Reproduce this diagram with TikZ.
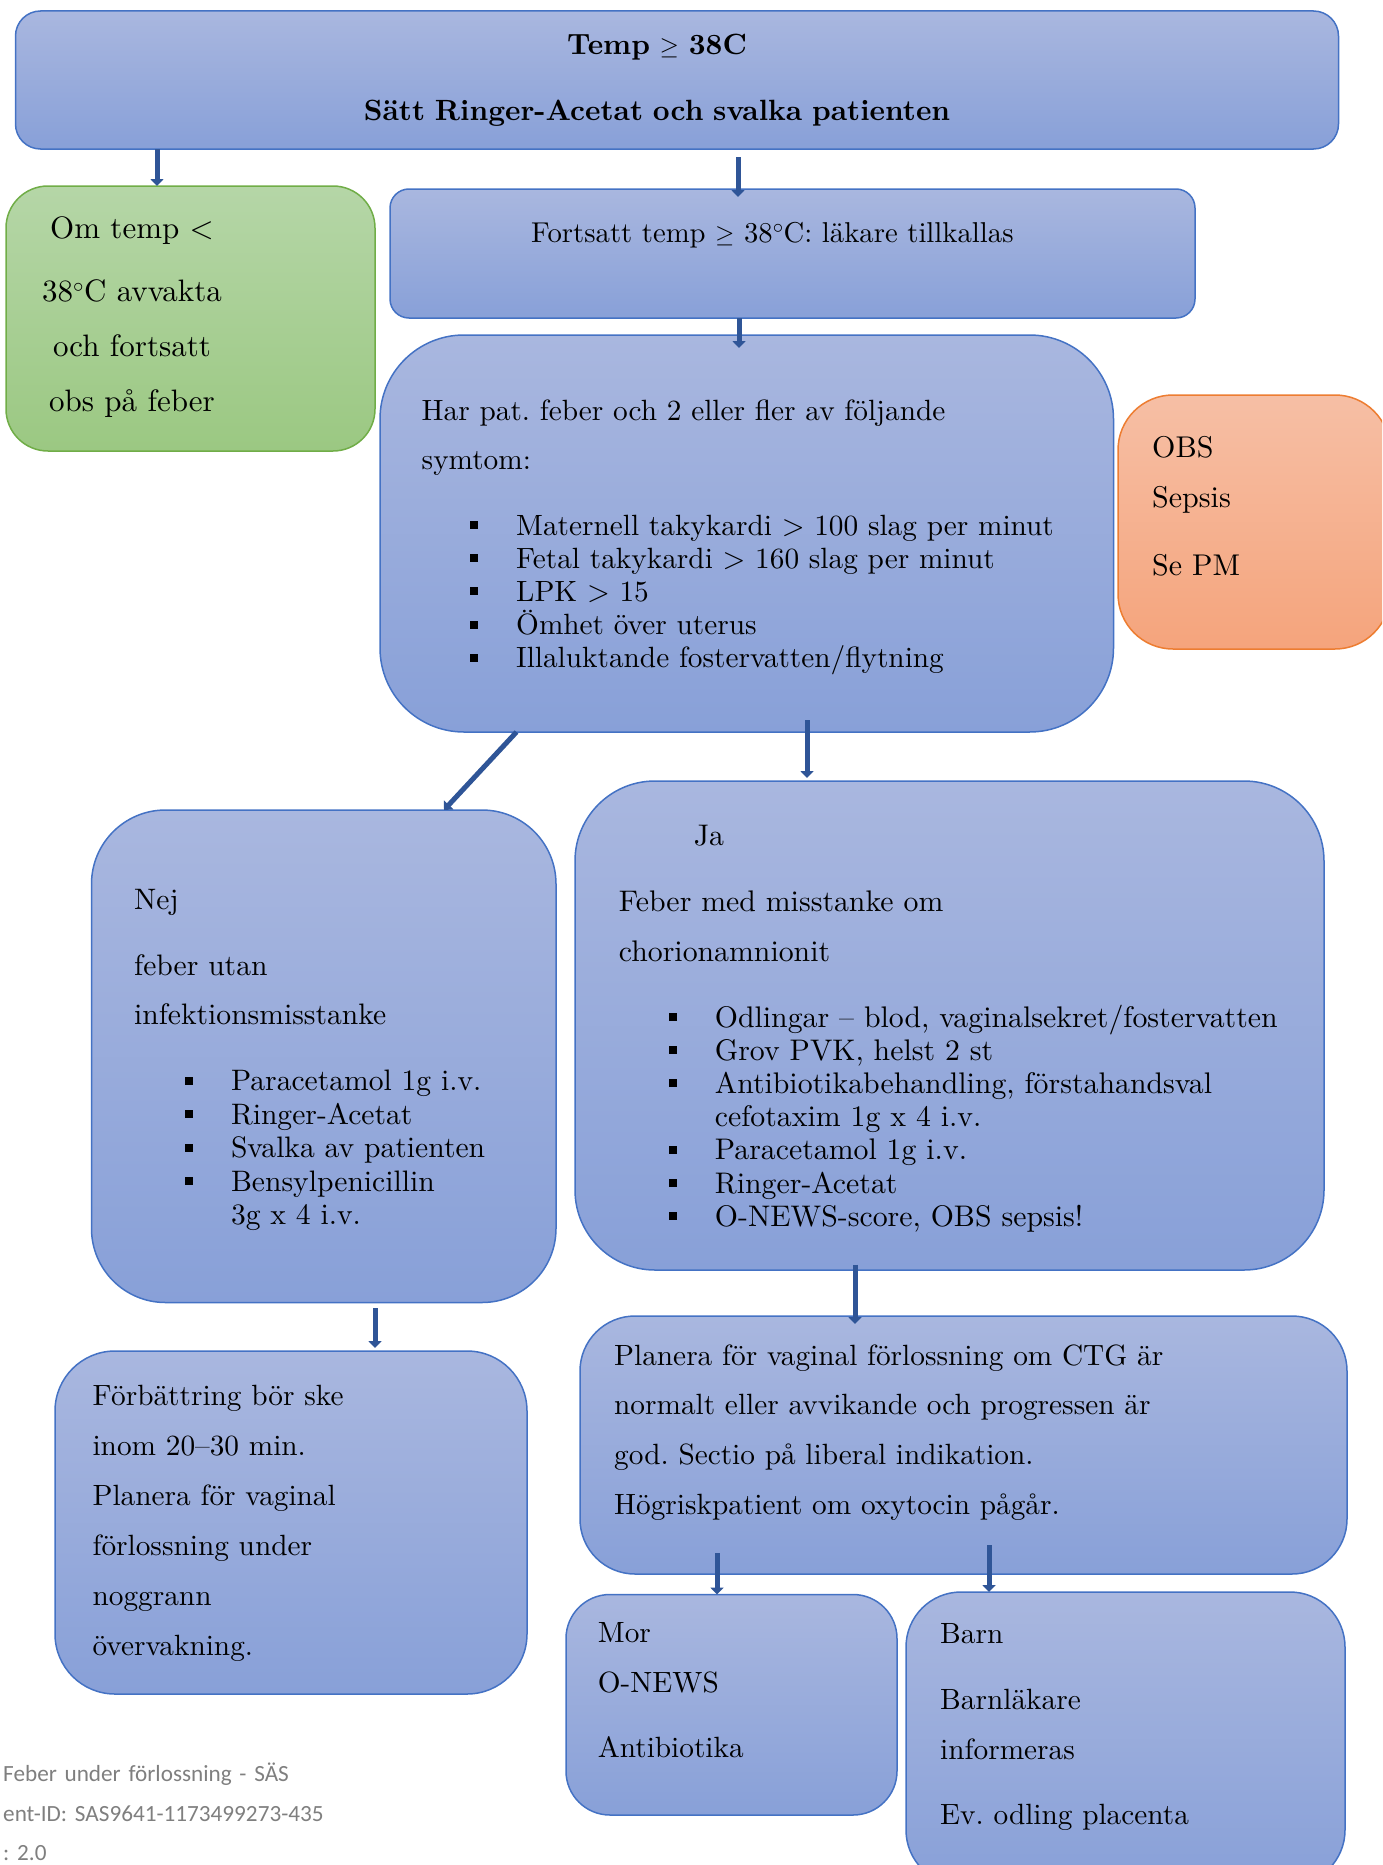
\documentclass[tikz,border=0pt]{standalone}
\usepackage{fontspec}
\setmainfont{lmroman10-regular.otf}[BoldFont=lmroman10-bold.otf]
\newfontfamily\footfont{Carlito}
\usetikzlibrary{positioning, arrows.meta}
\definecolor{blatopp}{HTML}{A9B7DF}
\definecolor{blabotten}{HTML}{88A0D8}
\definecolor{blakant}{HTML}{4472C4}
\definecolor{gronttopp}{HTML}{B5D6A7}
\definecolor{grontbotten}{HTML}{9BC882}
\definecolor{gronkant}{HTML}{70AD47}
\definecolor{orangetopp}{HTML}{F6BFA5}
\definecolor{orangebotten}{HTML}{F5A47C}
\definecolor{orangekant}{HTML}{ED7D31}
\definecolor{pilfarg}{HTML}{2F5597}
\definecolor{fotgra}{HTML}{7F7F7F}
\newcommand\punkt{\makebox[0pt][r]{\rule[6pt]{8pt}{8pt}\hspace{38pt}}}
\frenchspacing

\begin{document}
\begin{tikzpicture}[x=1pt, y=-1pt,
		ruta/.style={draw=blakant, line width=1.5pt, top color=blatopp, bottom color=blabotten,
		             inner sep=0pt, outer sep=0pt},
		gronruta/.style={ruta, draw=gronkant, top color=gronttopp, bottom color=grontbotten},
		orangeruta/.style={ruta, draw=orangekant, top color=orangetopp, bottom color=orangebotten},
		brodtext/.style={inner sep=0pt, anchor=base west, align=left, text width=760pt,
		                 font=\fontsize{29.3}{33.2}\selectfont},
		glestext/.style={brodtext, font=\fontsize{29.3}{50}\selectfont},
		pil/.style={-{Triangle[length=7pt, width=13pt]}, pilfarg, line width=5pt}]
	\useasboundingbox (0,0) rectangle (1382,1865);
	\clip (0,0) rectangle (1382,1865);
	% rutor
	\node[ruta, rounded corners=25pt, minimum width=1323pt, minimum height=138pt] (topp) at (677,80) {};
	\node[gronruta, rounded corners=42pt, minimum width=369pt, minimum height=265pt] (gron) at (190.5,318.5) {};
	\node[ruta, rounded corners=19pt, minimum width=805pt, minimum height=129pt] (fort) at (792.5,253.5) {};
	\node[ruta, rounded corners=84pt, minimum width=733.5pt, minimum height=397pt] (har) at (746.75,533.5) {};
	\node[orangeruta, rounded corners=55pt, minimum width=272pt, minimum height=254pt] (obs) at (1254,522) {};
	\node[ruta, rounded corners=74pt, minimum width=464.5pt, minimum height=492.5pt] (nej) at (323.75,1056.25) {};
	\node[ruta, rounded corners=80pt, minimum width=749pt, minimum height=489pt] (ja) at (949.5,1025.5) {};
	\node[ruta, rounded corners=60pt, minimum width=472pt, minimum height=343pt] (forb) at (291,1522.5) {};
	\node[ruta, rounded corners=55pt, minimum width=767pt, minimum height=258pt] (plan) at (963.5,1445) {};
	\node[ruta, rounded corners=44pt, minimum width=331pt, minimum height=220.5pt] (mor) at (731.5,1704.75) {};
	\node[ruta, rounded corners=55pt, minimum width=439pt, minimum height=293pt] (barn) at (1125.5,1738.5) {};
	% texter
	\node[brodtext, anchor=base, align=center, text width=1200pt, font=\bfseries\fontsize{29.3}{33.2}\selectfont] (topptext) at (657,54.3)
		{Temp $\geq$ 38C\\[33.2pt] Sätt Ringer-Acetat och svalka patienten};
	\node[brodtext, anchor=base, align=center, text width=330pt, font=\fontsize{31}{55}\selectfont] (grontext) at (132,238)
		{Om temp <\\[8.7pt] 38$^{\circ}$C avvakta\\ och fortsatt\\ obs på feber};
	\node[brodtext, font=\fontsize{28.7}{33.2}\selectfont] (forttext) at (531,242.7) {Fortsatt temp $\geq$ 38$^{\circ}$C: läkare tillkallas};
	\node[brodtext] (hartext) at (421.5,420)
		{Har pat. feber och 2 eller fler av följande\\[16.1pt]
		 symtom:\\[32.5pt]
		 \hspace*{94.5pt}\punkt Maternell takykardi > 100 slag per minut\\
		 \hspace*{94.5pt}\punkt Fetal takykardi > 160 slag per minut\\
		 \hspace*{94.5pt}\punkt LPK > 15\\
		 \hspace*{94.5pt}\punkt Ömhet över uterus\\
		 \hspace*{94.5pt}\punkt Illaluktande fostervatten/flytning};
	\node[brodtext, font=\fontsize{30}{33.2}\selectfont] (obstext) at (1152,457.7) {OBS\\[16.1pt] Sepsis\\[34.8pt] Se PM};
	\node[brodtext, font=\fontsize{29.6}{33.5}\selectfont] (nejtext) at (134,909.8)
		{Nej\\[31.7pt]
		 feber utan\\[16pt]
		 infektionsmisstanke\\[32.9pt]
		 \hspace*{96.8pt}\punkt Paracetamol 1g i.v.\\
		 \hspace*{96.8pt}\punkt Ringer-Acetat\\
		 \hspace*{96.8pt}\punkt Svalka av patienten\\
		 \hspace*{96.8pt}\punkt Bensylpenicillin\\
		 \hspace*{96.8pt}3g x 4 i.v.};
	\node[brodtext, font=\fontsize{29.8}{33.2}\selectfont] (jatext) at (618.7,845.6)
		{\hspace*{75pt}Ja\\[32.2pt]
		 Feber med misstanke om\\[17.5pt]
		 chorionamnionit\\[32.1pt]
		 \hspace*{96pt}\punkt Odlingar – blod, vaginalsekret/fostervatten\\
		 \hspace*{96pt}\punkt Grov PVK, helst 2 st\\
		 \hspace*{96pt}\punkt Antibiotikabehandling, förstahandsval\\
		 \hspace*{96pt}cefotaxim 1g x 4 i.v.\\
		 \hspace*{96pt}\punkt Paracetamol 1g i.v.\\
		 \hspace*{96pt}\punkt Ringer-Acetat\\
		 \hspace*{96pt}\punkt O-NEWS-score, OBS sepsis!};
	\node[glestext] (forbtext) at (92.4,1405)
		{Förbättring bör ske\\ inom 20–30 min.\\ Planera för vaginal\\ förlossning under\\ noggrann\\ övervakning.};
	\node[glestext, font=\fontsize{29.3}{49.9}\selectfont] (plantext) at (614,1365)
		{Planera för vaginal förlossning om CTG är\\ normalt eller avvikande och progressen är\\
		 god. Sectio på liberal indikation.\\ Högriskpatient om oxytocin pågår.};
	\node[glestext] (mortext) at (597.7,1642) {Mor\\ O-NEWS\\[15.7pt] Antibiotika};
	\node[glestext] (barntext) at (940,1643.9) {Barn\\[15.6pt] Barnläkare\\ informeras\\[15.4pt] Ev. odling placenta};
	\node[inner sep=0pt, anchor=base west, align=left, text width=600pt, text=fotgra,
	      font=\footfont\fontsize{23.2}{39.6}\selectfont] (fot) at (3,1781.7)
		{Feber under förlossning - SÄS\\ ent-ID: SAS9641-1173499273-435\\ : 2.0};
	% pilar
	\draw[pil] (157,0 |- topp.south) -- (157,0 |- gron.north);
	\draw[pil, shorten <=8pt, shorten >=-8pt] (738,0 |- topp.south) -- (738,0 |- fort.north);
	\draw[pil, shorten >=-13pt] (739,0 |- fort.south) -- (739,0 |- har.north);
	\draw[pil] (516.5,0 |- har.south) -- (444,0 |- nej.north);
	\draw[pil, shorten <=-12pt, shorten >=3pt] (807,0 |- har.south) -- (807,0 |- ja.north);
	\draw[pil, shorten <=5.5pt, shorten >=3pt] (375,0 |- nej.south) -- (375,0 |- forb.north);
	\draw[pil, shorten <=-5.4pt, shorten >=-8pt] (855,0 |- ja.south) -- (855,0 |- plan.north);
	\draw[pil, shorten <=-21pt] (717,0 |- plan.south) -- (717,0 |- mor.north);
	\draw[pil, shorten <=-29pt] (989,0 |- plan.south) -- (989,0 |- barn.north);
\end{tikzpicture}
\end{document}
